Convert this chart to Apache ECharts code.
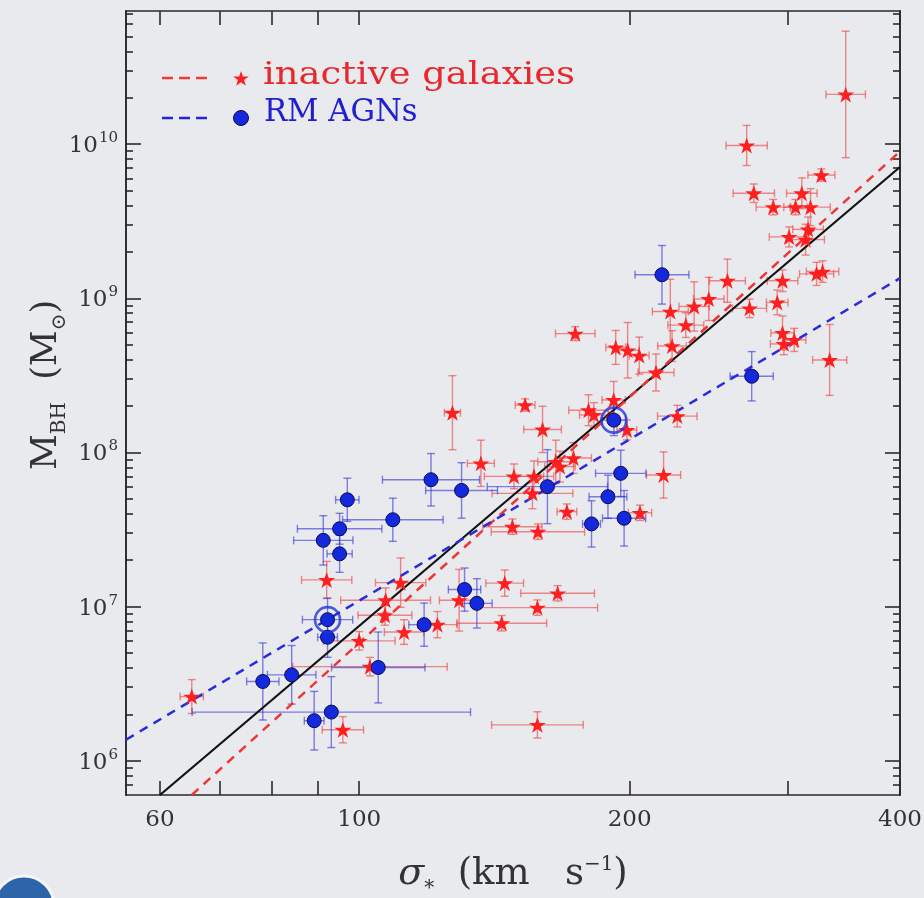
<!DOCTYPE html>
<html>
<head>
<meta charset="utf-8">
<script src="https://cdn.jsdelivr.net/npm/echarts@6/dist/echarts.min.js"></script>
<style>
  html, body { margin: 0; padding: 0; background: #e8eaee; }
  #chart { width: 924px; height: 898px; }
</style>
</head>
<body>
<div id="chart"></div>
<script>
// M_BH - sigma_* relation: inactive galaxies vs. reverberation-mapped AGNs.
// Velocity dispersion in km/s, black-hole mass in solar masses,
// errors are symmetric half-widths in dex.

const inactiveSigma = [348, 270, 327, 275, 289, 306, 311, 318, 316, 301, 314, 323, 328, 296, 257, 245, 236, 222, 272, 292,
  231, 223, 296, 305, 297, 334, 193, 199, 205, 214, 174, 127, 153, 160, 180, 182.5, 192, 198.6, 226, 136.6,
  165.5, 167.3, 173.2, 148.7, 156.5, 155.9, 170.3, 148.1, 158.1, 205.4, 218.2, 92, 107, 106.8, 111.2, 112.2, 122.2, 129.2, 145.2, 166.3,
  157.9, 144.1, 157.9, 65.1, 100, 102.8, 95.9];
const inactiveMass = [2.1e10, 9.8e9, 6.3e9, 4.8e9, 3.9e9, 3.9e9, 4.8e9, 3.9e9, 2.8e9, 2.5e9, 2.4e9, 1.44e9, 1.49e9, 1.3e9, 1.3e9, 9.9e8, 8.85e8, 8.2e8, 8.6e8, 9.4e8,
  6.7e8, 4.9e8, 5.96e8, 5.37e8, 5.06e8, 3.98e8, 4.8e8, 4.6e8, 4.25e8, 3.3e8, 5.9e8, 1.81e8, 2.03e8, 1.41e8, 1.88e8, 1.75e8, 2.19e8, 1.4e8, 1.72e8, 8.5e7,
  8.7e7, 8.1e7, 9.2e7, 7.0e7, 7.0e7, 5.43e7, 4.13e7, 3.3e7, 3.06e7, 4.06e7, 7.14e7, 1.49e7, 1.1e7, 8.8e6, 1.43e7, 6.84e6, 7.64e6, 1.1e7, 1.42e7, 1.22e7,
  9.85e6, 7.8e6, 1.71e6, 2.61e6, 6.0e6, 4.08e6, 1.59e6];
const inactiveSigmaErr = [0.022, 0.023, 0.015, 0.023, 0.019, 0.013, 0.017, 0.022, 0.017, 0.022, 0.021, 0.019, 0.018, 0.017, 0.020, 0.017, 0.017, 0.020, 0.019, 0.012,
  0.020, 0.016, 0.013, 0.013, 0.015, 0.019, 0.011, 0.013, 0.011, 0.020, 0.022, 0.009, 0.011, 0.021, 0.022, 0.016, 0.013, 0.011, 0.022, 0.015,
  0.020, 0.017, 0.020, 0.033, 0.022, 0.045, 0.011, 0.033, 0.052, 0.013, 0.019, 0.028, 0.050, 0.030, 0.028, 0.022, 0.022, 0.022, 0.021, 0.041,
  0.067, 0.050, 0.051, 0.013, 0.040, 0.086, 0.023];
const inactiveMassErr = [0.41, 0.13, 0.04, 0.06, 0.05, 0.05, 0.10, 0.12, 0.08, 0.065, 0.10, 0.075, 0.07, 0.07, 0.14, 0.14, 0.16, 0.21, 0.06, 0.08,
  0.08, 0.10, 0.11, 0.075, 0.07, 0.23, 0.11, 0.18, 0.12, 0.12, 0.045, 0.24, 0.04, 0.15, 0.10, 0.08, 0.12, 0.065, 0.07, 0.15,
  0.14, 0.10, 0.10, 0.08, 0.10, 0.10, 0.05, 0.05, 0.05, 0.05, 0.15, 0.12, 0.08, 0.065, 0.16, 0.08, 0.085, 0.20, 0.085, 0.05,
  0.05, 0.05, 0.085, 0.11, 0.06, 0.06, 0.085];

const agnSigma = [217.3, 273.5, 192.1, 195.5, 189.2, 197.2, 181.4, 162, 130, 120.2, 97.0, 109, 95.1, 91.2, 95.1, 92.2, 92.2, 118.1, 131, 135.2,
  105, 78.1, 84.1, 89.1, 93.1];
const agnMass = [1.42e9, 3.12e8, 1.62e8, 7.32e7, 5.16e7, 3.74e7, 3.44e7, 6.0e7, 5.67e7, 6.65e7, 4.93e7, 3.66e7, 3.2e7, 2.69e7, 2.2e7, 8.23e6, 6.33e6, 7.64e6, 1.29e7, 1.05e7,
  4.03e6, 3.27e6, 3.61e6, 1.82e6, 2.07e6];
const agnSigmaErr = [0.030, 0.024, 0.013, 0.028, 0.021, 0.024, 0.010, 0.067, 0.040, 0.054, 0.013, 0.056, 0.047, 0.033, 0.014, 0.028, 0.011, 0.017, 0.018, 0.017,
  0.052, 0.018, 0.027, 0.011, 0.155];
const agnMassErr = [0.19, 0.16, 0.10, 0.15, 0.14, 0.18, 0.15, 0.24, 0.18, 0.17, 0.14, 0.14, 0.10, 0.16, 0.12, 0.14, 0.13, 0.14, 0.14, 0.16,
  0.23, 0.25, 0.19, 0.19, 0.23];
// AGNs marked with an extra ring
const agnRinged = [2, 15];

// Best-fit relations, as end points [sigma, M_BH]
const fitCombined = [[60, 6.0e5], [400, 7.1e9]];
const fitInactive = [[65.1, 6.0e5], [400, 8.97e9]];
const fitAgn = [[55, 1.37e6], [400, 1.35e9]];

// Axis ticks and labels
const xRange = [55, 400];
const yRange = [6.0e5, 7.3e10];
const xTickValues = [60, 70, 80, 90, 100, 200, 300, 400];
const xLabelValues = [60, 100, 200, 400];
const yMajorValues = [1e6, 1e7, 1e8, 1e9, 1e10];
const yMajorExponents = ['6', '7', '8', '9', '10'];
const yMinorValues = [];
for (let e = 5; e <= 10; e++) {
  for (let m = 2; m <= 9; m++) {
    const v = m * Math.pow(10, e);
    if (v > yRange[0] && v < yRange[1]) yMinorValues.push(v);
  }
}

const SERIF = "'DejaVu Serif', 'Liberation Serif', serif";
const AXIS_COLOR = '#2a2a2a';
const TEXT_COLOR = '#333333';
const RED = '#ff1f1f';
const BLUE = '#1428dc';
const STAR_PTS = [[50, 0], [61.8, 35.1], [98.9, 35.1], [68.9, 56.8], [80.3, 91.9], [50, 70.2], [19.7, 91.9], [31.1, 56.8], [1.1, 35.1], [38.2, 35.1]];
const STAR = 'path://M' + STAR_PTS.map(p => p.join(',')).join(' L') + ' Z';

function zip4(a, b, c, d) {
  return a.map((v, i) => [v, b[i], c[i], d[i]]);
}

// Cross-shaped error bars with end caps, drawn in data space
function errorBars(color) {
  return function (params, api) {
    const x = api.value(0), y = api.value(1);
    const fx = Math.pow(10, api.value(2)), fy = Math.pow(10, api.value(3));
    const l = api.coord([x / fx, y]), r = api.coord([x * fx, y]);
    const lo = api.coord([x, y / fy]), hi = api.coord([x, y * fy]);
    const cap = 4;
    const st = () => ({ stroke: color, lineWidth: 1.4, fill: null });
    const seg = (x1, y1, x2, y2) => ({ type: 'line', shape: { x1, y1, x2, y2 }, style: st() });
    return {
      type: 'group',
      children: [
        seg(l[0], l[1], r[0], r[1]),
        seg(l[0], l[1] - cap, l[0], l[1] + cap),
        seg(r[0], r[1] - cap, r[0], r[1] + cap),
        seg(lo[0], lo[1], hi[0], hi[1]),
        seg(lo[0] - cap, lo[1], lo[0] + cap, lo[1]),
        seg(hi[0] - cap, hi[1], hi[0] + cap, hi[1])
      ]
    };
  };
}

function xAxisDef(pos, withLabels) {
  return {
    type: 'log', logBase: 10, min: xRange[0], max: xRange[1], position: pos,
    axisLine: { show: true, onZero: false, lineStyle: { color: AXIS_COLOR, width: 1.6 } },
    axisTick: { show: true, inside: true, length: 14, customValues: xTickValues,
      lineStyle: { color: AXIS_COLOR, width: 1.6 } },
    axisLabel: { show: withLabels, customValues: xLabelValues, margin: 14,
      color: TEXT_COLOR, fontFamily: SERIF, fontSize: 23,
      formatter: v => String(Math.round(v)) },
    splitLine: { show: false }, minorTick: { show: false },
    name: withLabels ? '{i|σ}{sb|*}{t|  (km   s}{sp|−1}{t|)}' : '',
    nameLocation: 'middle', nameGap: 60,
    nameTextStyle: {
      color: TEXT_COLOR, fontFamily: SERIF, fontSize: 37,
      rich: {
        i: { fontFamily: SERIF, fontSize: 38, fontStyle: 'italic', color: TEXT_COLOR, verticalAlign: 'bottom' },
        t: { fontFamily: SERIF, fontSize: 37, color: TEXT_COLOR, verticalAlign: 'bottom' },
        sb: { fontFamily: SERIF, fontSize: 20, color: TEXT_COLOR, verticalAlign: 'bottom', padding: [0, 0, -6, 0] },
        sp: { fontFamily: SERIF, fontSize: 20, color: TEXT_COLOR, verticalAlign: 'bottom', padding: [0, 0, 18, 0] }
      }
    }
  };
}

function yAxisDef(pos, major, withLabels) {
  return {
    type: 'log', logBase: 10, min: yRange[0], max: yRange[1], position: pos,
    axisLine: { show: true, onZero: false, lineStyle: { color: AXIS_COLOR, width: 1.6 } },
    axisTick: { show: true, inside: true, length: major ? 15 : 7,
      customValues: major ? yMajorValues : yMinorValues,
      lineStyle: { color: AXIS_COLOR, width: 1.6 } },
    axisLabel: {
      show: withLabels, customValues: yMajorValues, margin: 8,
      formatter: v => {
        const i = yMajorValues.findIndex(t => Math.abs(t - v) / t < 1e-6);
        return '{b|10}{s|' + yMajorExponents[i] + '}';
      },
      rich: {
        b: { fontFamily: SERIF, fontSize: 23, color: TEXT_COLOR, verticalAlign: 'bottom' },
        s: { fontFamily: SERIF, fontSize: 15, color: TEXT_COLOR, verticalAlign: 'bottom', padding: [0, 0, 12, 1] }
      }
    },
    splitLine: { show: false }, minorTick: { show: false }
  };
}

const chart = echarts.init(document.getElementById('chart'), null, { renderer: 'canvas' });

chart.setOption({
  backgroundColor: '#e8eaee',
  animation: false,
  grid: { left: 126, right: 24, top: 11, bottom: 103, containLabel: false, outerBoundsMode: 'none' },
  xAxis: [xAxisDef('bottom', true), xAxisDef('top', false)],
  yAxis: [
    yAxisDef('left', true, true),
    yAxisDef('left', false, false),
    yAxisDef('right', true, false),
    yAxisDef('right', false, false)
  ],
  graphic: [
    // legend: inactive galaxies
    { type: 'line', shape: { x1: 162, y1: 78, x2: 209, y2: 78 },
      style: { stroke: '#f03a3a', lineWidth: 2.4, lineDash: [11, 6] } },
    { type: 'polygon', x: 233, y: 71, scaleX: 0.16, scaleY: 0.16,
      shape: { points: STAR_PTS }, style: { fill: RED } },
    { type: 'text', x: 263, y: 91, scaleX: 1.19,
      style: { text: 'inactive galaxies', fill: '#e8282c', font: "31px 'DejaVu Serif'", verticalAlign: 'bottom' } },
    // legend: RM AGNs
    { type: 'line', shape: { x1: 162, y1: 118, x2: 209, y2: 118 },
      style: { stroke: '#2424dc', lineWidth: 2.4, lineDash: [11, 6] } },
    { type: 'circle', shape: { cx: 241, cy: 118, r: 7.5 },
      style: { fill: BLUE, stroke: '#0a0a55', lineWidth: 1 } },
    { type: 'text', x: 264, y: 128, scaleX: 0.99,
      style: { text: 'RM AGNs', fill: '#2020d0', font: "31px 'DejaVu Serif'", verticalAlign: 'bottom' } },
    // y-axis title
    { type: 'text', x: 47, y: 385, rotation: Math.PI / 2,
      style: {
        text: '{m|M}{sb|BH}{m|  (M}{sb|⊙}{m|)}',
        align: 'center', verticalAlign: 'middle',
        rich: {
          m: { fontFamily: SERIF, fontSize: 35, fill: TEXT_COLOR, verticalAlign: 'bottom' },
          sb: { fontFamily: "'DejaVu Serif', 'DejaVu Sans'", fontSize: 20, fill: TEXT_COLOR, verticalAlign: 'bottom', padding: [0, 0, -5, 0] }
        }
      } },
    // corner badge
    { type: 'circle', shape: { cx: 24, cy: 906, r: 30 },
      style: { fill: '#2d65a8', stroke: '#f4f6f8', lineWidth: 3 } }
  ],
  series: [
    { type: 'custom', name: 'inactive errors', xAxisIndex: 0, yAxisIndex: 0,
      renderItem: errorBars('rgba(236,70,70,0.62)'), clip: true, z: 2, silent: true,
      encode: { x: 0, y: 1 },
      data: zip4(inactiveSigma, inactiveMass, inactiveSigmaErr, inactiveMassErr) },
    { type: 'custom', name: 'AGN errors', xAxisIndex: 0, yAxisIndex: 0,
      renderItem: errorBars('rgba(50,50,215,0.6)'), clip: true, z: 2, silent: true,
      encode: { x: 0, y: 1 },
      data: zip4(agnSigma, agnMass, agnSigmaErr, agnMassErr) },
    { type: 'line', name: 'combined fit', data: fitCombined, symbol: 'none', z: 3, silent: true,
      lineStyle: { color: '#111111', width: 2.2 } },
    { type: 'line', name: 'inactive fit', data: fitInactive, symbol: 'none', z: 3, silent: true,
      lineStyle: { color: '#ef3535', width: 2.5, type: [9, 7] } },
    { type: 'line', name: 'AGN fit', data: fitAgn, symbol: 'none', z: 3, silent: true,
      lineStyle: { color: '#2a2ade', width: 2.5, type: [9, 7] } },
    { type: 'scatter', name: 'inactive galaxies', symbol: STAR, symbolSize: 17, symbolKeepAspect: true, z: 5,
      itemStyle: { color: RED, opacity: 1 },
      data: inactiveSigma.map((s, i) => [s, inactiveMass[i]]) },
    { type: 'scatter', name: 'RM AGNs', symbol: 'circle', symbolSize: 14, z: 6,
      itemStyle: { color: BLUE, borderColor: '#0a0a55', borderWidth: 1, opacity: 1 },
      data: agnSigma.map((s, i) => [s, agnMass[i]]) },
    { type: 'scatter', name: 'ringed AGNs', symbol: 'circle', symbolSize: 25, z: 6,
      itemStyle: { color: 'rgba(0,0,0,0)', borderColor: '#2433d8', borderWidth: 2.6 },
      data: agnRinged.map(i => [agnSigma[i], agnMass[i]]) }
  ]
});
</script>
</body>
</html>
